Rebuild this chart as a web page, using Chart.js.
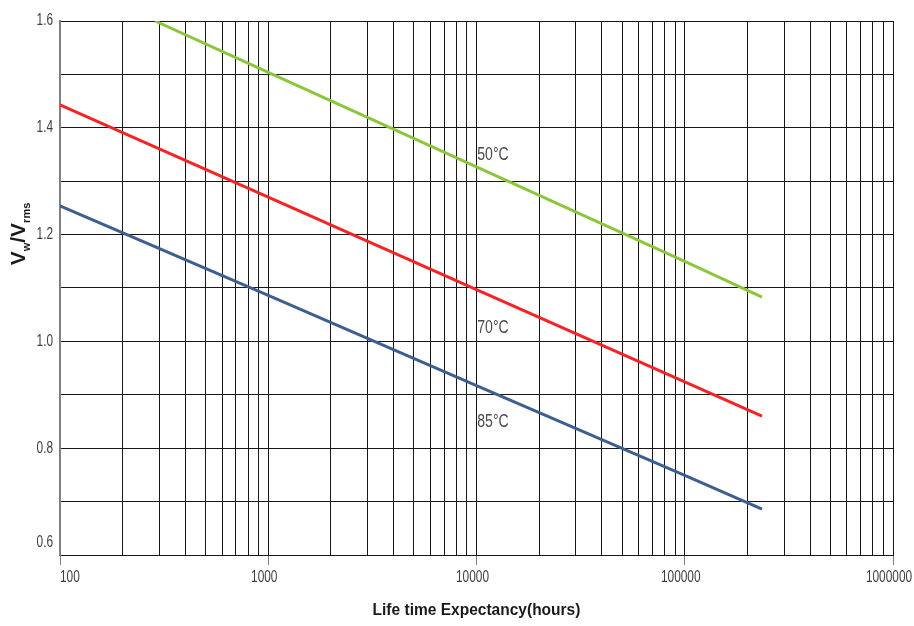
<!DOCTYPE html>
<html>
<head>
<meta charset="utf-8">
<script src="https://cdn.jsdelivr.net/npm/chart.js@4/dist/chart.umd.min.js"></script>
<style>
  html, body { margin: 0; padding: 0; background: #fff; }
  canvas { display: block; }
</style>
</head>
<body>
<canvas id="life" width="914" height="626"></canvas>
<script>
// Voltage ratio versus expected life time, per ambient temperature
const hours50 = [286, 1000, 10000, 100000, 235000];
const ratio50 = [1.600, 1.504, 1.327, 1.150, 1.083];

const hours70 = [100, 1000, 10000, 100000, 235000];
const ratio70 = [1.443, 1.270, 1.097, 0.924, 0.860];

const hours85 = [100, 1000, 10000, 100000, 235000];
const ratio85 = [1.254, 1.086, 0.917, 0.749, 0.686];

// Curve labels and where they sit (hours, ratio)
const curveLabels = ['50°C', '70°C', '85°C'];
const labelHours  = [12000, 12000, 12000];
const labelRatio  = [1.349, 1.025, 0.849];

// Axis tick labels
const xTickLabels = [100, 1000, 10000, 100000, 1000000];
const yTickLabels = [0.6, 0.8, 1.0, 1.2, 1.4, 1.6];

// Grid positions: every 1..9 step per decade on x, every 0.1 on y
const xGrid = [];
for (let e = 2; e < 6; e++) {
  for (let m = 1; m < 10; m++) xGrid.push(m * Math.pow(10, e));
}
xGrid.push(1000000);
const yGrid = [];
for (let i = 6; i <= 16; i++) yGrid.push(i / 10);

const isDecade = v => Math.abs(Math.log10(v) - Math.round(Math.log10(v))) < 1e-9;
const pts = (xs, ys) => xs.map((x, i) => ({ x: x, y: ys[i] }));

function condensed(ctx, text, x, y, align, sx) {
  ctx.save();
  ctx.translate(x, y);
  ctx.scale(sx, 1);
  ctx.textAlign = align;
  ctx.fillText(text, 0, 0);
  ctx.restore();
}

const textPlugin = {
  id: 'textPlugin',
  afterDraw(chart) {
    const ctx = chart.ctx;
    const xs = chart.scales.x, ys = chart.scales.y;
    ctx.save();
    ctx.fillStyle = '#404040';
    ctx.textBaseline = 'middle';
    ctx.font = '16px "Liberation Sans", Arial, sans-serif';

    // y tick labels (the lowest one is lifted off the x axis)
    yTickLabels.forEach(v => {
      let py = ys.getPixelForValue(v);
      if (v === yTickLabels[0]) py -= 12;
      condensed(ctx, v.toFixed(1), xs.left - 7, py, 'right', 0.74);
    });

    // x tick labels
    xTickLabels.forEach((v, i) => {
      const px = xs.getPixelForValue(v);
      const py = xs.top + 23;
      if (i === 0) condensed(ctx, String(v), px, py, 'left', 0.74);
      else condensed(ctx, String(v), px - 4, py, 'center', 0.74);
    });

    // curve labels
    ctx.fillStyle = '#4a4a4a';
    ctx.font = '19px "Liberation Sans", Arial, sans-serif';
    curveLabels.forEach((t, i) => {
      condensed(ctx, t, xs.getPixelForValue(labelHours[i]), ys.getPixelForValue(labelRatio[i]), 'center', 0.74);
    });

    // x axis title
    ctx.fillStyle = '#1a1a1a';
    ctx.font = 'bold 16px "Liberation Sans", Arial, sans-serif';
    condensed(ctx, 'Life time Expectancy(hours)', (xs.left + xs.right) / 2, 611, 'center', 0.97);

    // y axis title: V_w / V_rms, rotated
    ctx.translate(18, 234);
    ctx.rotate(-Math.PI / 2);
    const big = 'bold 21px "Liberation Sans", Arial, sans-serif';
    const small = 'bold 11px "Liberation Sans", Arial, sans-serif';
    const parts = [
      { t: 'V', f: big, dy: 0 },
      { t: 'w', f: small, dy: 5 },
      { t: '/V', f: big, dy: 0 },
      { t: 'rms', f: small, dy: 5 }
    ];
    let total = 0;
    parts.forEach(p => { ctx.font = p.f; p.w = ctx.measureText(p.t).width; total += p.w; });
    let cx = -total / 2;
    ctx.textAlign = 'left';
    ctx.textBaseline = 'alphabetic';
    parts.forEach(p => {
      ctx.font = p.f;
      ctx.fillText(p.t, cx, 7 + p.dy);
      cx += p.w;
    });
    ctx.restore();
  }
};

new Chart(document.getElementById('life'), {
  type: 'line',
  data: {
    datasets: [
      { label: '50°C', data: pts(hours50, ratio50), borderColor: '#8cc63f', borderWidth: 3, pointRadius: 0, tension: 0, fill: false },
      { label: '70°C', data: pts(hours70, ratio70), borderColor: '#f52424', borderWidth: 3, pointRadius: 0, tension: 0, fill: false },
      { label: '85°C', data: pts(hours85, ratio85), borderColor: '#3d5f90', borderWidth: 3, pointRadius: 0, tension: 0, fill: false }
    ]
  },
  options: {
    responsive: false,
    animation: false,
    devicePixelRatio: 1,
    layout: { padding: { top: 21, right: 21, left: 0, bottom: 0 } },
    plugins: { legend: { display: false }, tooltip: { enabled: false } },
    scales: {
      x: {
        type: 'logarithmic',
        min: 100,
        max: 1000000,
        afterBuildTicks: s => { s.ticks = xGrid.map(v => ({ value: v })); },
        afterFit: s => { s.height = 71; },
        ticks: { display: false },
        grid: {
          color: c => (c.tick && c.tick.value === 100) ? '#808080' : '#161616',
          lineWidth: 1,
          drawTicks: true,
          tickLength: 10,
          tickColor: c => (c.tick && isDecade(c.tick.value)) ? '#808080' : 'rgba(0,0,0,0)'
        },
        border: { color: '#161616', width: 1 }
      },
      y: {
        min: 0.6,
        max: 1.6,
        afterBuildTicks: s => { s.ticks = yGrid.map(v => ({ value: v })); },
        afterFit: s => { s.width = 60; },
        ticks: { display: false },
        grid: { color: '#161616', lineWidth: 1, drawTicks: false },
        border: { color: '#808080', width: 2 }
      }
    }
  },
  plugins: [textPlugin]
});
</script>
</body>
</html>
